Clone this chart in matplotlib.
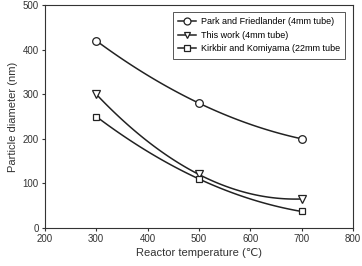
import numpy as np
import matplotlib
matplotlib.use("Agg")
import matplotlib.pyplot as plt

plt.rcParams['font.family'] = ['Liberation Sans', 'DejaVu Sans']

temps = [300, 500, 700]
park = [420, 280, 200]
this_work = [300, 120, 65]
kirkbir = [250, 110, 37]

labels = ['Park and Friedlander (4mm tube)',
          'This work (4mm tube)',
          'Kirkbir and Komiyama (22mm tube']
markers = ['o', 'v', 's']

fig = plt.figure(figsize=(3.62, 2.66), dpi=100)
ax = fig.add_axes([0.124, 0.143, 0.851, 0.838])

# smooth line through the three points (quadratic), like the original plot
xs = np.linspace(temps[0], temps[-1], 100)
for ys, m, lab in zip([park, this_work, kirkbir], markers, labels):
    c = np.polyfit(temps, ys, 2)
    ax.plot(xs, np.polyval(c, xs), color='#222222', lw=1.1)
    ax.plot(temps, ys, linestyle='none', marker=m, ms=5.5 if m != 's' else 5,
            mfc='white', mec='#222222', mew=0.9)
    ax.plot([], [], color='#222222', lw=1.1, marker=m, ms=5, mfc='white',
            mec='#222222', mew=0.9, label=lab)

ax.set_xlim(200, 800)
ax.set_ylim(0, 500)
ax.set_xticks(range(200, 801, 100))
ax.set_yticks(range(0, 501, 100))
ax.tick_params(direction='out', length=2.5, width=0.8, labelsize=7,
               colors='#333333', pad=2)
for s in ax.spines.values():
    s.set_linewidth(0.8)
    s.set_color('#333333')

ax.set_xlabel('Reactor temperature (\u2103)', fontsize=8, color='#333333', labelpad=3)
ax.set_ylabel('Particle diameter (nm)', fontsize=8, color='#333333', labelpad=3)

leg = ax.legend(loc='upper right', fontsize=6.5, handlelength=2.0,
                handletextpad=0.5, borderpad=0.6, labelspacing=0.5,
                fancybox=False, framealpha=1, edgecolor='#555555',
                bbox_to_anchor=(0.99, 0.99))
leg.get_frame().set_linewidth(0.7)

fig.savefig('out.png', dpi=100)
